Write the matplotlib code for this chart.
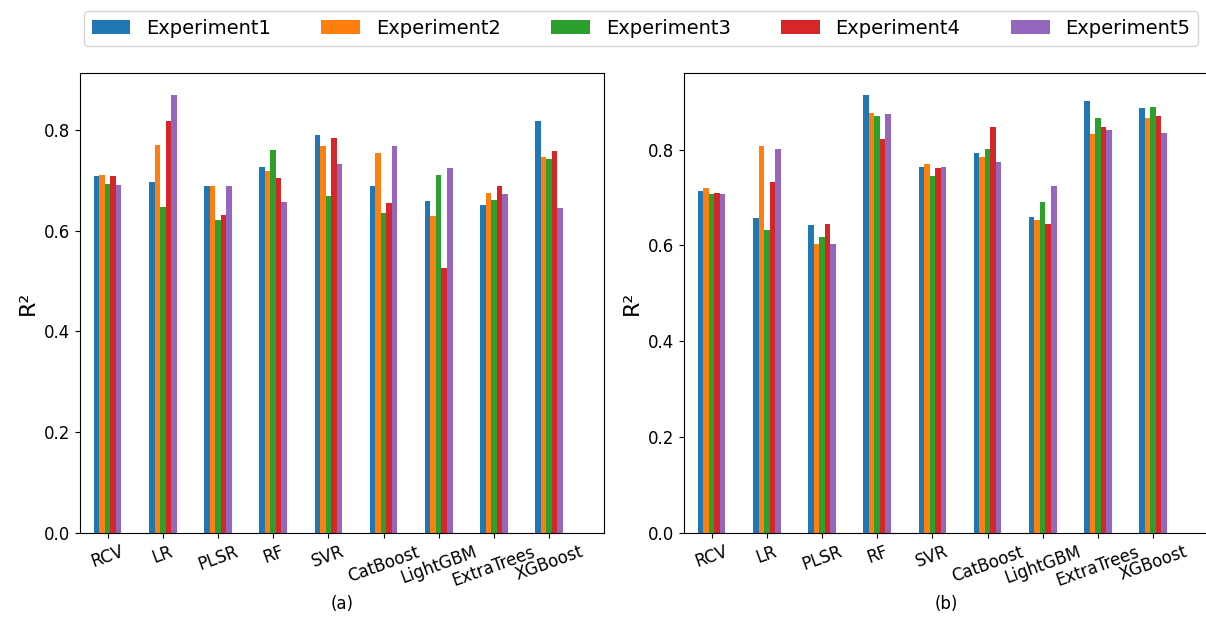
import numpy as np
import matplotlib
matplotlib.use("Agg")
import matplotlib.pyplot as plt

models = ["RCV", "LR", "PLSR", "RF", "SVR", "CatBoost", "LightGBM", "ExtraTrees", "XGBoost"]
experiments = ["Experiment1", "Experiment2", "Experiment3", "Experiment4", "Experiment5"]

# R² per model, panel (a)
a_exp1 = [0.708, 0.696, 0.688, 0.726, 0.789, 0.689, 0.658, 0.651, 0.818]
a_exp2 = [0.710, 0.770, 0.688, 0.719, 0.767, 0.754, 0.629, 0.675, 0.746]
a_exp3 = [0.693, 0.647, 0.621, 0.760, 0.669, 0.635, 0.710, 0.661, 0.741]
a_exp4 = [0.709, 0.818, 0.631, 0.705, 0.783, 0.654, 0.525, 0.688, 0.758]
a_exp5 = [0.691, 0.869, 0.688, 0.656, 0.732, 0.768, 0.724, 0.672, 0.645]

# R² per model, panel (b)
b_exp1 = [0.713, 0.657, 0.643, 0.914, 0.763, 0.793, 0.659, 0.901, 0.886]
b_exp2 = [0.719, 0.808, 0.602, 0.877, 0.769, 0.784, 0.654, 0.832, 0.866]
b_exp3 = [0.707, 0.632, 0.617, 0.870, 0.744, 0.802, 0.691, 0.865, 0.888]
b_exp4 = [0.710, 0.733, 0.644, 0.821, 0.761, 0.847, 0.645, 0.848, 0.871]
b_exp5 = [0.707, 0.802, 0.603, 0.874, 0.763, 0.773, 0.724, 0.840, 0.835]

panel_a = [a_exp1, a_exp2, a_exp3, a_exp4, a_exp5]
panel_b = [b_exp1, b_exp2, b_exp3, b_exp4, b_exp5]
colors = ["#1f77b4", "#ff7f0e", "#2ca02c", "#d62728", "#9467bd"]

fig = plt.figure(figsize=(12.06, 6.19), dpi=100)
W, H = 1206, 619
ax_a = fig.add_axes([80 / W, (H - 533) / H, 524.3 / W, 460 / H])
ax_b = fig.add_axes([684 / W, (H - 533) / H, 524.3 / W, 460 / H])

x = np.arange(len(models))
bw = 0.1
handles = []
for ax, data in ((ax_a, panel_a), (ax_b, panel_b)):
    for i, (vals, c) in enumerate(zip(data, colors)):
        h = ax.bar(x + (i - 2) * bw, vals, width=bw, color=c, label=experiments[i])
        if ax is ax_a:
            handles.append(h)
    ax.set_xticks(x)
    ax.set_xticklabels(models, rotation=20, fontsize=12)
    ax.tick_params(axis="y", labelsize=12)
    ax.set_xlim(-0.5, 9.0)
    ax.set_ylabel("R²", fontsize=16)
    ax.set_yticks([0.0, 0.2, 0.4, 0.6, 0.8])
    ax.set_yticklabels(["0.0", "0.2", "0.4", "0.6", "0.8"])

ax_a.set_ylim(0, max(max(s) for s in panel_a) * 1.05)
ax_b.set_ylim(0, max(max(s) for s in panel_b) * 1.05)

fig.text(342 / W, 1 - 604 / H, "(a)", ha="center", va="center", fontsize=12)
fig.text(946 / W, 1 - 604 / H, "(b)", ha="center", va="center", fontsize=12)

fig.legend(handles=handles, labels=experiments, loc="center",
           bbox_to_anchor=(641 / W, 1 - 28.5 / H), ncol=5, fontsize=14,
           columnspacing=2.6)

fig.savefig("out.png", dpi=100)
